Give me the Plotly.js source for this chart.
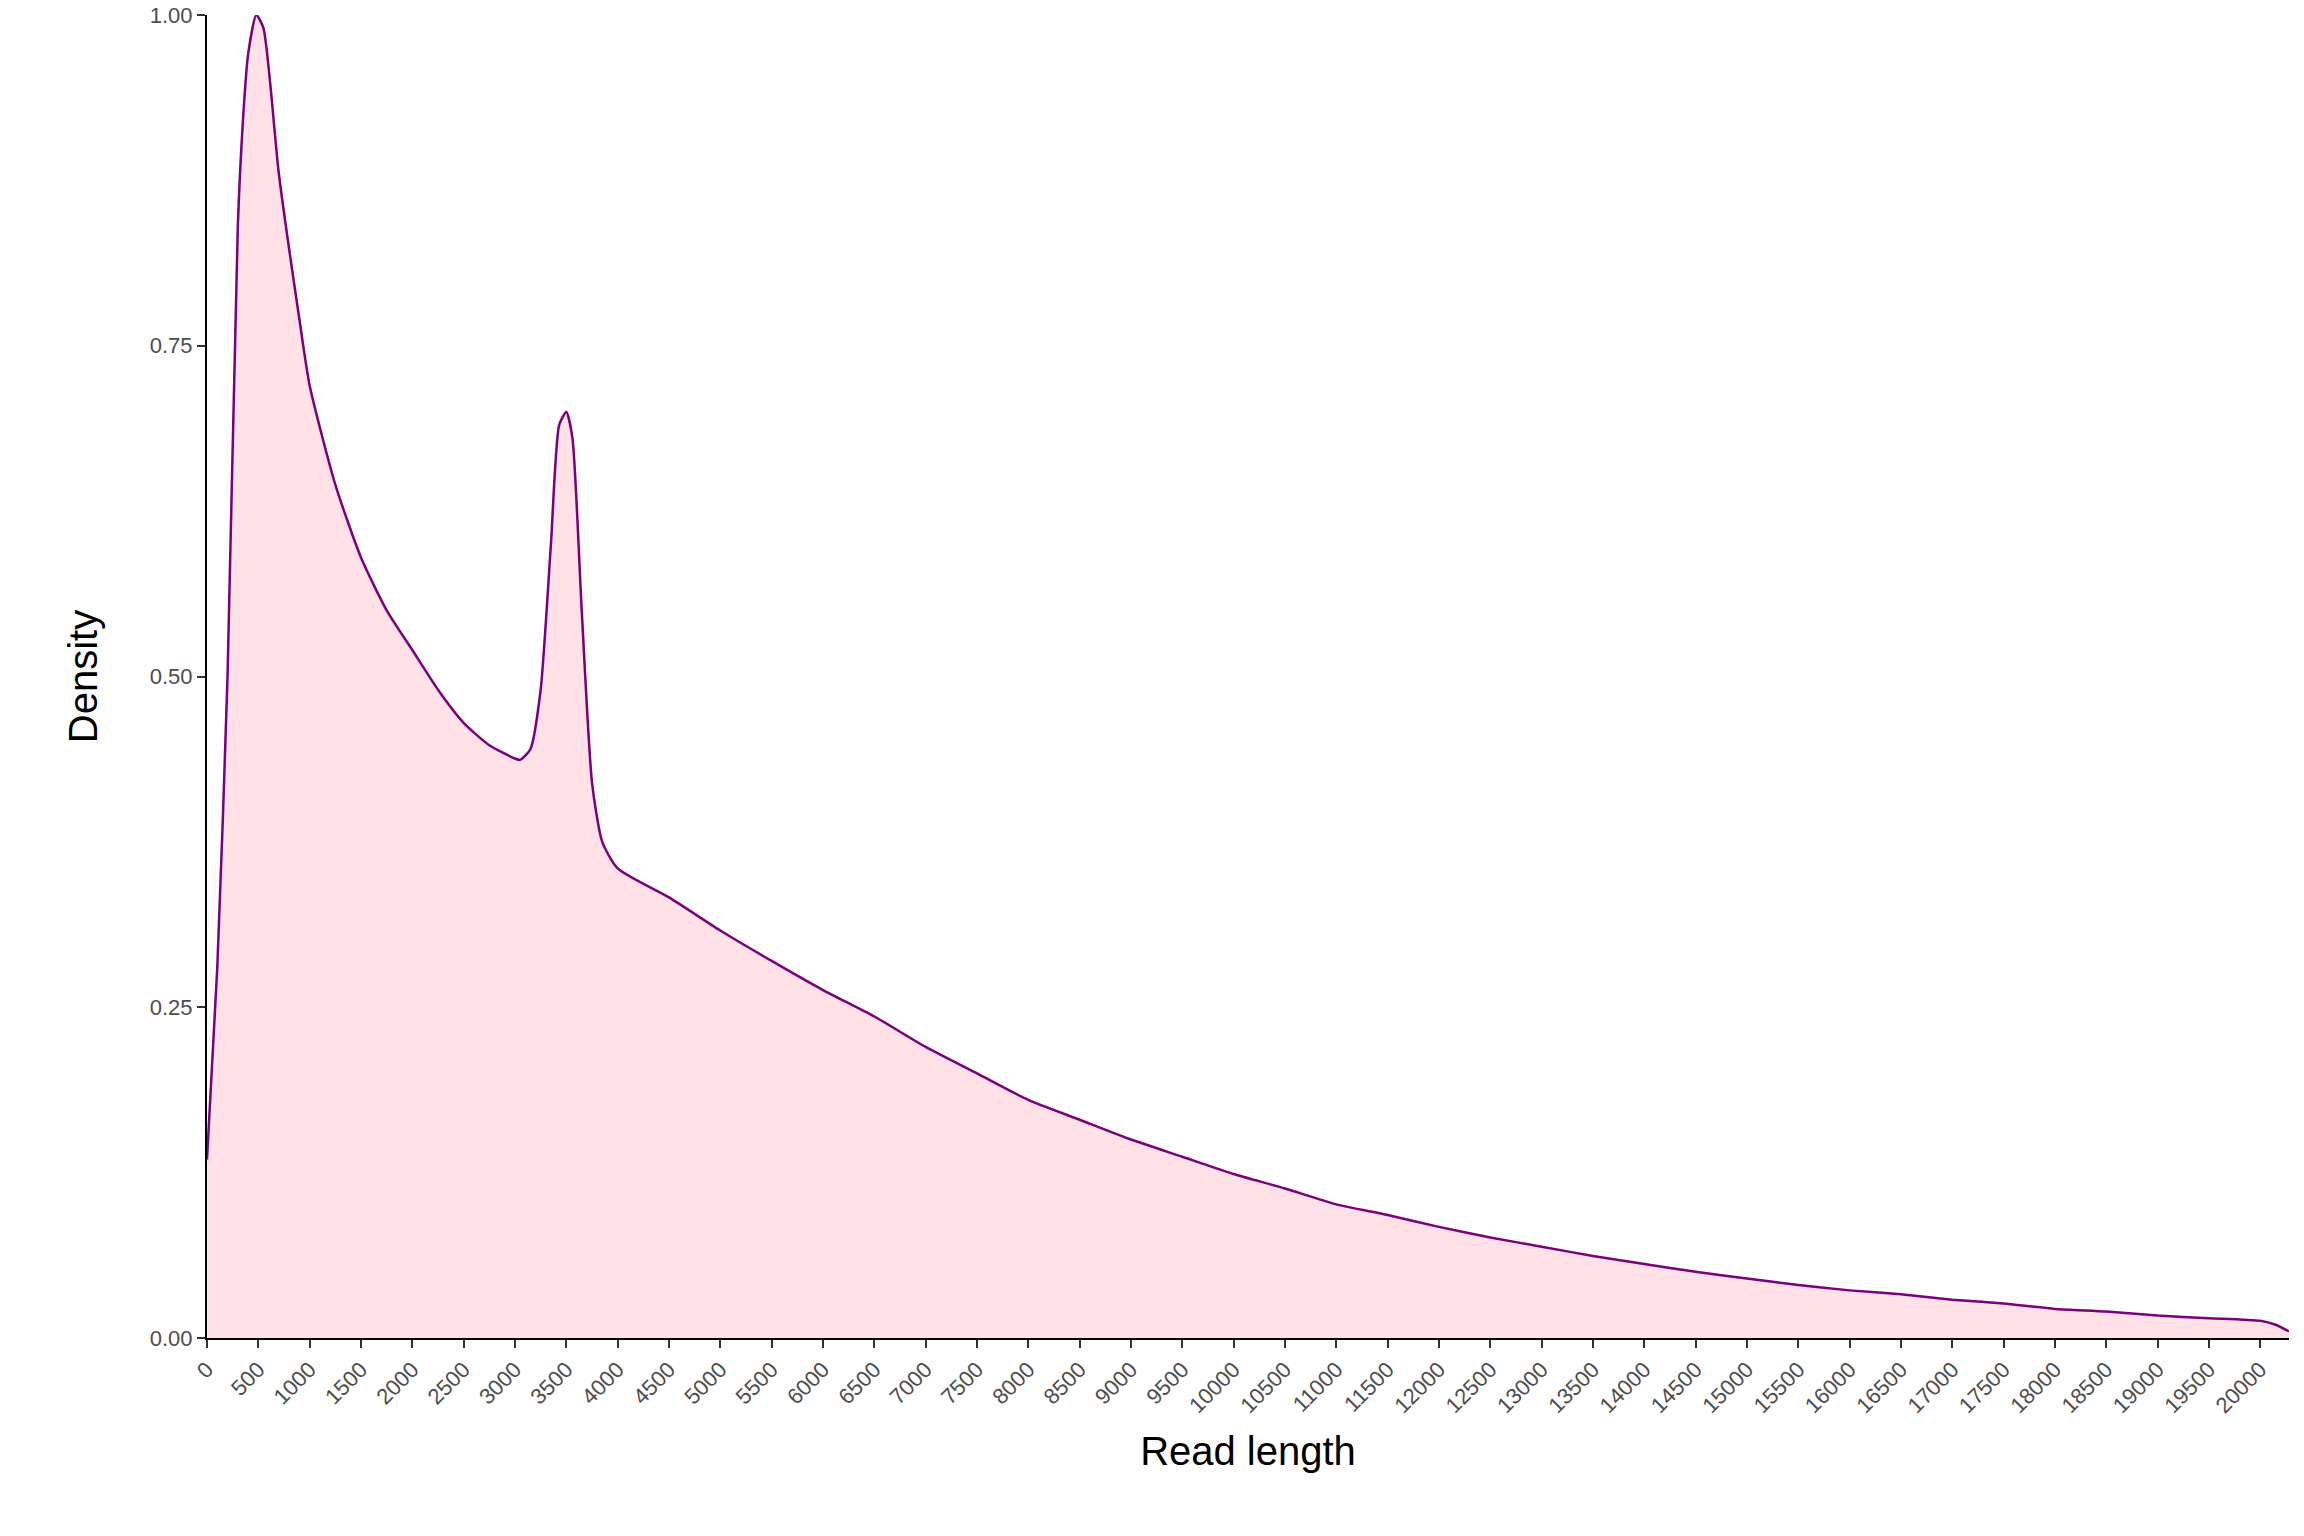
<!DOCTYPE html>
<html>
<head>
<meta charset="utf-8">
<script src="https://cdn.plot.ly/plotly-3.0.1.min.js"></script>
<style>html,body{margin:0;padding:0;background:#fff}#chart{width:2304px;height:1536px}</style>
</head>
<body>
<div id="chart"></div>
<script>
// Density curve
const readLength = [0, 100, 200, 300, 350, 400, 480, 550, 700, 900, 1000, 1250, 1500, 1750, 2000,
  2250, 2500, 2750, 3000, 3050, 3150, 3250, 3350, 3430, 3500, 3560, 3650, 3750, 3850, 4000,
  4500, 5000, 5500, 6000, 6500, 7000, 7500, 8000, 8500, 9000, 9500, 10000, 10500, 11000,
  11500, 12000, 12500, 13000, 13500, 14000, 14500, 15000, 15500, 16000, 16500, 17000,
  17500, 18000, 18500, 19000, 19500, 20000, 20150, 20280];
const density = [0.135, 0.28, 0.5, 0.84, 0.92, 0.97, 1.0, 0.99, 0.88, 0.77, 0.72, 0.645, 0.59, 0.55, 0.52,
  0.49, 0.465, 0.448, 0.438, 0.437, 0.445, 0.49, 0.6, 0.69, 0.70, 0.68, 0.55, 0.42, 0.375, 0.355,
  0.333, 0.308, 0.285, 0.263, 0.243, 0.22, 0.2, 0.18, 0.165, 0.15, 0.137, 0.124, 0.113, 0.101,
  0.093, 0.084, 0.076, 0.069, 0.062, 0.056, 0.05, 0.045, 0.04, 0.036, 0.033, 0.029,
  0.026, 0.022, 0.02, 0.017, 0.015, 0.013, 0.01, 0.005];
const xTicks = [];
for (let v = 0; v <= 20000; v += 500) xTicks.push(v);
const yTicks = [0, 0.25, 0.5, 0.75, 1];
const yTickText = ['0.00', '0.25', '0.50', '0.75', '1.00'];

const trace = {
  x: readLength, y: density, type: 'scatter', mode: 'lines',
  fill: 'tozeroy', fillcolor: '#FFE1E7',
  line: { color: '#7A0177', width: 2.5, shape: 'spline', smoothing: 0.6 },
  hoverinfo: 'skip'
};

const tickFont = { family: 'Liberation Sans, Arial, sans-serif', size: 22, color: '#4d4d4d' };
const layout = {
  width: 2304, height: 1536,
  paper_bgcolor: '#fff', plot_bgcolor: '#fff',
  margin: { l: 207, r: 15, t: 15, b: 198 },
  showlegend: false,
  xaxis: {
    range: [0, 20280], tickvals: xTicks, ticktext: xTicks.map(String), tickangle: -45,
    showgrid: false, zeroline: false, showline: true, linecolor: '#000', linewidth: 2,
    ticks: 'outside', ticklen: 8, tickwidth: 2, tickcolor: '#333', tickfont: tickFont,
    title: { text: 'Read length', font: { family: 'Liberation Sans, Arial, sans-serif', size: 40, color: '#000' }, standoff: 20 }
  },
  yaxis: {
    range: [0, 1], tickvals: yTicks, ticktext: yTickText,
    showgrid: false, zeroline: false, showline: true, linecolor: '#000', linewidth: 2,
    ticks: 'outside', ticklen: 8, tickwidth: 2, tickcolor: '#333', tickfont: tickFont,
    title: { text: 'Density', font: { family: 'Liberation Sans, Arial, sans-serif', size: 40, color: '#000' }, standoff: 40 }
  }
};

Plotly.newPlot('chart', [trace], layout, { displayModeBar: false, staticPlot: true });
</script>
</body>
</html>
